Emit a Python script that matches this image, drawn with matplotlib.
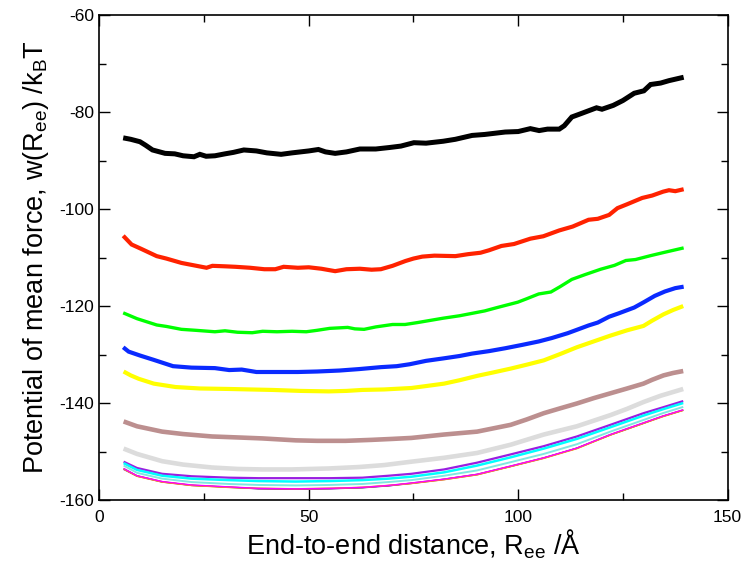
import matplotlib
matplotlib.use("Agg")
import matplotlib.pyplot as plt
from matplotlib.ticker import MultipleLocator

plt.rcParams['font.family'] = ['Liberation Sans', 'DejaVu Sans']
plt.rcParams['mathtext.fontset'] = 'custom'
plt.rcParams['mathtext.rm'] = 'Liberation Sans'
plt.rcParams['mathtext.default'] = 'rm'
plt.rcParams['axes.unicode_minus'] = False

# ---- data ----
x_black = [5.7, 7.5, 9.7, 11, 12.7, 15.7, 18, 20, 22.6, 24, 25.5, 27.6, 30, 32, 34.5, 37.5, 40, 43.4, 46, 50,
           52.3, 54, 56.3, 59, 62.2, 66, 69.2, 72, 75.1, 78, 82.1, 85, 89, 92, 96.9, 100, 102.9, 105, 107,
           109.8, 111, 112.8, 115, 118.7, 120, 122.7, 125, 127.7, 130, 131.6, 134, 136, 139.5]
y_black = [-85.3, -85.6, -86.1, -86.8, -87.8, -88.5, -88.6, -89.0, -89.2, -88.7, -89.1, -89.0, -88.6, -88.3,
           -87.8, -88.0, -88.4, -88.7, -88.4, -88.0, -87.7, -88.2, -88.5, -88.2, -87.6, -87.6, -87.3, -87.0,
           -86.3, -86.4, -86.0, -85.6, -84.8, -84.6, -84.1, -84.0, -83.4, -83.8, -83.5, -83.5, -82.8, -81.0,
           -80.3, -79.1, -79.4, -78.6, -77.6, -76.1, -75.6, -74.3, -74.0, -73.5, -72.8]

x_red = [5.7, 7.7, 10, 13.7, 16, 19.6, 22, 25.6, 27, 30, 32.5, 36, 39.4, 42, 44, 47.4, 50, 53, 56.3, 59, 62.2,
         65, 67.2, 70, 73.1, 75, 77.1, 80, 85, 88, 91, 93, 96, 99, 102.9, 106, 109.8, 113, 116.8, 119, 121.7,
         123.7, 126, 129.6, 132, 134.6, 136, 137.5, 139.5]
y_red = [-105.5, -107.3, -108.2, -109.7, -110.2, -111.1, -111.5, -112.1, -111.7, -111.8, -111.9, -112.1,
         -112.4, -112.4, -111.9, -112.1, -112.0, -112.3, -112.8, -112.4, -112.3, -112.5, -112.4, -111.7,
         -110.7, -110.2, -109.8, -109.6, -109.7, -109.3, -109.0, -108.5, -107.6, -107.2, -106.1, -105.6,
         -104.4, -103.6, -102.2, -102.0, -101.2, -99.8, -99.0, -97.7, -97.2, -96.4, -96.1, -96.3, -95.9]

x_green = [5.7, 9, 13.7, 16, 19.6, 23, 27.6, 30, 33, 36.5, 39, 42.4, 46, 49.4, 52, 55, 59.3, 61, 63.2, 66, 70,
           73, 76, 82.1, 86, 89, 92, 95, 99.9, 102, 104.9, 107.8, 110, 112.8, 116, 119.7, 123, 125.7, 128,
           131.6, 135, 139.5]
y_green = [-121.4, -122.6, -123.9, -124.2, -124.8, -125.0, -125.3, -125.1, -125.4, -125.5, -125.2, -125.3,
           -125.2, -125.3, -125.0, -124.6, -124.4, -124.7, -124.8, -124.3, -123.8, -123.8, -123.4, -122.5,
           -122.0, -121.5, -121.0, -120.3, -119.2, -118.5, -117.5, -117.1, -116.0, -114.5, -113.5, -112.4,
           -111.6, -110.6, -110.4, -109.6, -108.9, -108.0]

x_blue = [5.7, 7, 9.7, 13, 17.6, 22, 27.6, 31, 34, 37.5, 42, 47.4, 52, 57.3, 62, 67.2, 71, 74.1, 78, 82.1, 86,
          89, 93, 96.9, 101, 104.9, 108, 111.8, 114, 116.8, 119, 121.7, 124, 127.7, 130, 132.6, 135, 137.5,
          139.5]
y_blue = [-128.5, -129.4, -130.2, -131.1, -132.4, -132.7, -132.8, -133.2, -133.1, -133.6, -133.6, -133.6,
          -133.5, -133.3, -133.0, -132.6, -132.4, -132.0, -131.3, -130.8, -130.3, -129.8, -129.3, -128.7,
          -128.0, -127.3, -126.6, -125.6, -124.9, -124.0, -123.4, -122.2, -121.5, -120.3, -119.2, -117.9,
          -117.0, -116.3, -116.0]

x_yellow = [5.8, 7.5, 9.4, 13, 18.2, 24, 30.9, 36, 41.3, 48, 54.8, 59, 62.8, 68, 74.5, 78, 82.3, 86, 90.2, 94,
            98.2, 102, 106.1, 110, 114, 118, 122, 126, 129.9, 132, 134.7, 137, 139.4]
y_yellow = [-133.5, -134.3, -135.0, -136.0, -136.7, -137.0, -137.1, -137.2, -137.3, -137.5, -137.6, -137.5,
            -137.3, -137.2, -136.9, -136.5, -136.0, -135.3, -134.4, -133.7, -132.9, -132.1, -131.2, -129.9,
            -128.5, -127.3, -126.1, -125.0, -124.1, -123.0, -121.7, -120.8, -120.0]

x_brown = [5.8, 9, 15, 20, 26.9, 33, 38.9, 46.9, 52, 58.8, 65, 70, 74.5, 82.3, 90.2, 98.2, 102, 106.1, 110,
           114, 118, 122, 126, 129.9, 132, 134.7, 137, 139.4]
y_brown = [-143.8, -144.8, -145.9, -146.4, -146.9, -147.1, -147.3, -147.7, -147.8, -147.8, -147.6, -147.4,
           -147.2, -146.5, -145.9, -144.5, -143.4, -142.1, -141.1, -140.1, -139.0, -138.0, -137.0, -136.0,
           -135.2, -134.3, -133.8, -133.4]

x_grey = [5.8, 9, 15, 20, 26.9, 33, 38.9, 46, 54.8, 62, 68, 74.5, 82.3, 90.2, 98.2, 106.1, 114, 122, 126,
          129.9, 134, 139.4]
y_grey = [-149.4, -150.5, -152.0, -152.7, -153.3, -153.6, -153.7, -153.7, -153.5, -153.2, -152.8, -152.1,
          -151.3, -150.3, -148.6, -146.5, -144.8, -142.5, -141.2, -139.8, -138.5, -137.1]

x_low = [5.8, 9, 15, 22, 30.9, 38, 46.9, 55, 62.8, 69, 74.5, 82.3, 90.2, 98.2, 106.1, 114, 122, 129.9,
         134.5, 139.4]
y_violet = [-152.1, -153.4, -154.6, -155.1, -155.4, -155.5, -155.5, -155.5, -155.4, -155.0, -154.6, -153.7,
            -152.3, -150.6, -148.9, -146.9, -144.5, -142.1, -140.9, -139.6]
y_cyan = [-152.4, -153.8, -155.0, -155.6, -155.9, -156.1, -156.2, -156.1, -155.9, -155.6, -155.2, -154.3,
          -152.9, -151.2, -149.4, -147.4, -145.0, -142.6, -141.3, -140.0]
y_turquoise = [-152.9, -154.4, -155.6, -156.3, -156.7, -156.9, -157.0, -156.9, -156.7, -156.3, -155.9,
               -155.0, -153.9, -152.2, -150.5, -148.5, -145.9, -143.5, -142.1, -140.8]
y_magenta = [-153.5, -155.0, -156.2, -156.9, -157.3, -157.6, -157.7, -157.6, -157.4, -157.0, -156.5, -155.7,
             -154.7, -153.0, -151.3, -149.3, -146.5, -144.1, -142.7, -141.4]
y_orange = [-153.6, -155.1, -156.3, -157.0, -157.4, -157.6, -157.7, -157.6, -157.4, -157.0, -156.6, -155.8,
            -154.8, -153.1, -151.4, -149.4, -146.6, -144.2, -142.8, -141.5]
y_indigo = [-153.7, -155.1, -156.3, -157.0, -157.4, -157.7, -157.8, -157.7, -157.5, -157.1, -156.6, -155.8,
            -154.8, -153.1, -151.4, -149.3, -146.6, -144.2, -142.8, -141.5]
y_maroon = [-153.6, -155.0, -156.2, -157.0, -157.3, -157.7, -157.8, -157.7, -157.4, -157.1, -156.5, -155.7,
            -154.7, -153.0, -151.3, -149.3, -146.5, -144.1, -142.7, -141.4]
y_green4 = [-153.5, -155.0, -156.3, -156.9, -157.4, -157.6, -157.7, -157.6, -157.5, -157.0, -156.6, -155.7,
            -154.7, -153.1, -151.3, -149.4, -146.6, -144.2, -142.7, -141.5]

x_ticks = [0, 50, 100, 150]
y_ticks = [-160, -140, -120, -100, -80, -60]

# ---- figure ----
fig = plt.figure(figsize=(7.44, 5.67), dpi=100)
ax = fig.add_axes([0.1335, 0.1182, 0.8445, 0.855])

series = [
    (x_black, y_black, 'black', 3.6),
    (x_red, y_red, '#ff2200', 3.0),
    (x_green, y_green, '#00ff00', 2.4),
    (x_blue, y_blue, '#0a2aff', 3.0),
    (x_yellow, y_yellow, '#ffff00', 3.0),
    (x_brown, y_brown, '#bc8f8f', 3.3),
    (x_grey, y_grey, '#dcdcdc', 3.3),
    (x_low, y_violet, '#9a1ee0', 1.6),
    (x_low, y_cyan, '#00ffff', 1.8),
    (x_low, y_green4, '#5fbf5f', 0.8),
    (x_low, y_maroon, '#a05080', 0.9),
    (x_low, y_indigo, '#7221bc', 0.9),
    (x_low, y_turquoise, '#7fe8e0', 1.4),
    (x_low, y_orange, '#ffa500', 1.1),
    (x_low, y_magenta, '#ff00ff', 1.0),
]
for xs, ys, c, lw in series:
    ax.plot(xs, ys, color=c, lw=lw, solid_joinstyle='miter', solid_capstyle='butt')

ax.set_xlim(0, 150)
ax.set_ylim(-160, -60)
ax.set_xticks(x_ticks)
ax.set_yticks(y_ticks)
ax.xaxis.set_minor_locator(MultipleLocator(25))
ax.yaxis.set_minor_locator(MultipleLocator(10))
ax.tick_params(which='both', direction='in', top=True, right=True, labelsize=12.5, width=1.0)
ax.tick_params(axis='x', which='both', pad=7)
ax.tick_params(axis='y', which='both', pad=4)
ax.tick_params(which='major', length=8)
ax.tick_params(which='minor', length=5)
for sp in ax.spines.values():
    sp.set_linewidth(1.2)

ax.set_xlabel(r'End-to-end distance, R$_{ee}$ /Å', fontsize=19.5, labelpad=2)
ax.set_ylabel(r'Potential of mean force, w(R$_{ee}$) /k$_{B}$T', fontsize=19.5, labelpad=6)

fig.savefig('out.png', dpi=100)
